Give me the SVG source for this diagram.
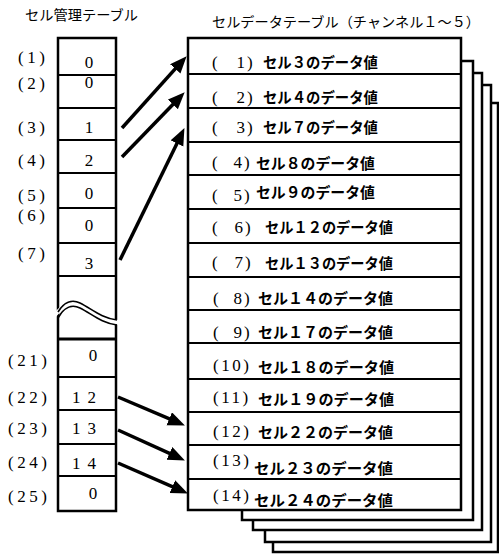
<svg xmlns="http://www.w3.org/2000/svg" width="499" height="555" viewBox="0 0 499 555">
<style>
.bg{fill:#fff}
.box{fill:#fff;stroke:#000;stroke-width:2.5}
.div{stroke:#000;stroke-width:2}
.ser{font-family:"Liberation Serif","DejaVu Serif",serif;font-size:17px;fill:#000}
.lbl{letter-spacing:3.5px}
.two{letter-spacing:2.5px}
.jp{font-family:"Noto Sans CJK JP","Noto Sans",sans-serif;font-size:15px;font-weight:bold;fill:#000}
.ttl{font-family:"Noto Sans CJK JP","Noto Sans",sans-serif;font-size:14px;fill:#000}
.arr{stroke:#000;stroke-width:3.5;fill:none}
</style>
<defs>
<marker id="ah" markerUnits="userSpaceOnUse" markerWidth="17" markerHeight="15" refX="8" refY="7" orient="auto" viewBox="0 0 17 15">
<path d="M0,0 L17,7 L0,14 z" fill="#000"/>
</marker>
</defs>
<rect class="bg" x="0" y="0" width="499" height="555"/>

<g id="titles">
<text class="ttl" x="25" y="20" textLength="113" lengthAdjust="spacingAndGlyphs">セル管理テーブル</text>
<text class="ttl" x="212" y="27" textLength="268" lengthAdjust="spacingAndGlyphs">セルデータテーブル（チャンネル１～５）</text>
</g>

<g id="mgmt-table">
<rect class="box" x="58" y="38" width="58" height="473"/>
<g class="div">
<line x1="58" y1="75" x2="116" y2="75"/>
<line x1="58" y1="108" x2="116" y2="108"/>
<line x1="58" y1="140" x2="116" y2="140"/>
<line x1="58" y1="173" x2="116" y2="173"/>
<line x1="58" y1="208" x2="116" y2="208"/>
<line x1="58" y1="243" x2="116" y2="243"/>
<line x1="58" y1="276" x2="116" y2="276"/>
<line x1="58" y1="339" x2="116" y2="339" stroke-width="3"/>
<line x1="58" y1="377" x2="116" y2="377"/>
<line x1="58" y1="410" x2="116" y2="410"/>
<line x1="58" y1="444" x2="116" y2="444"/>
<line x1="58" y1="476" x2="116" y2="476"/>
</g>
<g id="break">
<path d="M55,312 C64,302 72,299 80,303 C92,309 101,318 119,320 L119,325 C101,323 92,314 80,308 C72,304 64,307 55,318 Z" fill="#fff" stroke="none"/>
<path d="M58,312 C64,302 72,299 80,303 C92,309 101,318 117,320" fill="none" stroke="#000" stroke-width="1.6"/>
<path d="M58,318 C64,307 72,304 80,308 C92,314 101,323 117,325" fill="none" stroke="#000" stroke-width="1.6"/>
</g>
<g id="m1"><text class="ser lbl" x="18" y="63">(1)</text><text class="ser" x="89" y="68" text-anchor="middle">0</text></g>
<g id="m2"><text class="ser lbl" x="18" y="89">(2)</text><text class="ser" x="89" y="88" text-anchor="middle">0</text></g>
<g id="m3"><text class="ser lbl" x="18" y="133">(3)</text><text class="ser" x="89" y="133" text-anchor="middle">1</text></g>
<g id="m4"><text class="ser lbl" x="18" y="166">(4)</text><text class="ser" x="89" y="166" text-anchor="middle">2</text></g>
<g id="m5"><text class="ser lbl" x="18" y="201">(5)</text><text class="ser" x="89" y="199" text-anchor="middle">0</text></g>
<g id="m6"><text class="ser lbl" x="18" y="221">(6)</text><text class="ser" x="89" y="231" text-anchor="middle">0</text></g>
<g id="m7"><text class="ser lbl" x="18" y="259">(7)</text><text class="ser" x="89" y="269" text-anchor="middle">3</text></g>
<g id="m21"><text class="ser lbl" x="8" y="366">(21)</text><text class="ser" x="93" y="361" text-anchor="middle">0</text></g>
<g id="m22"><text class="ser lbl" x="8" y="403">(22)</text><text class="ser" x="72" y="403" letter-spacing="7">12</text></g>
<g id="m23"><text class="ser lbl" x="8" y="434">(23)</text><text class="ser" x="72" y="434" letter-spacing="7">13</text></g>
<g id="m24"><text class="ser lbl" x="8" y="468">(24)</text><text class="ser" x="72" y="469" letter-spacing="7">14</text></g>
<g id="m25"><text class="ser lbl" x="8" y="502">(25)</text><text class="ser" x="93" y="499" text-anchor="middle">0</text></g>
</g>

<g id="data-table">
<rect class="box" x="273" y="103" width="225" height="449"/>
<rect class="box" x="265" y="85" width="226" height="457"/>
<rect class="box" x="253" y="73" width="229" height="457"/>
<rect class="box" x="242" y="61" width="231" height="459"/>
<rect class="box" x="188" y="38" width="273" height="472"/>
<g class="div">
<line x1="188" y1="74" x2="461" y2="74"/>
<line x1="188" y1="108" x2="461" y2="108"/>
<line x1="188" y1="142" x2="461" y2="142"/>
<line x1="188" y1="175" x2="461" y2="175"/>
<line x1="188" y1="209" x2="461" y2="209"/>
<line x1="188" y1="243" x2="461" y2="243"/>
<line x1="188" y1="277" x2="461" y2="277"/>
<line x1="188" y1="310" x2="461" y2="310"/>
<line x1="188" y1="343" x2="461" y2="343"/>
<line x1="188" y1="379" x2="461" y2="379"/>
<line x1="188" y1="412" x2="461" y2="412"/>
<line x1="188" y1="445" x2="461" y2="445"/>
<line x1="188" y1="479" x2="461" y2="479"/>
</g>
<g id="d1"><text class="ser" x="212" y="68">(</text><text class="ser" x="245" y="68" text-anchor="end">1</text><text class="ser" x="247" y="68">)</text><text class="jp" x="263" y="68" textLength="115" lengthAdjust="spacingAndGlyphs">セル３のデータ値</text></g>
<g id="d2"><text class="ser" x="212" y="103">(</text><text class="ser" x="245" y="103" text-anchor="end">2</text><text class="ser" x="247" y="103">)</text><text class="jp" x="263" y="103" textLength="115" lengthAdjust="spacingAndGlyphs">セル４のデータ値</text></g>
<g id="d3"><text class="ser" x="212" y="133">(</text><text class="ser" x="245" y="133" text-anchor="end">3</text><text class="ser" x="247" y="133">)</text><text class="jp" x="263" y="133" textLength="115" lengthAdjust="spacingAndGlyphs">セル７のデータ値</text></g>
<g id="d4"><text class="ser" x="212" y="168">(</text><text class="ser" x="242" y="168" text-anchor="end">4</text><text class="ser" x="244" y="168">)</text><text class="jp" x="256" y="169" textLength="119" lengthAdjust="spacingAndGlyphs">セル８のデータ値</text></g>
<g id="d5"><text class="ser" x="212" y="201">(</text><text class="ser" x="242" y="201" text-anchor="end">5</text><text class="ser" x="244" y="201">)</text><text class="jp" x="256" y="198" textLength="119" lengthAdjust="spacingAndGlyphs">セル９のデータ値</text></g>
<g id="d6"><text class="ser" x="212" y="233">(</text><text class="ser" x="243" y="233" text-anchor="end">6</text><text class="ser" x="245" y="233">)</text><text class="jp" x="265" y="233" textLength="128" lengthAdjust="spacingAndGlyphs">セル１２のデータ値</text></g>
<g id="d7"><text class="ser" x="212" y="268">(</text><text class="ser" x="243" y="268" text-anchor="end">7</text><text class="ser" x="245" y="268">)</text><text class="jp" x="265" y="269" textLength="128" lengthAdjust="spacingAndGlyphs">セル１３のデータ値</text></g>
<g id="d8"><text class="ser" x="213" y="304">(</text><text class="ser" x="242" y="304" text-anchor="end">8</text><text class="ser" x="244" y="304">)</text><text class="jp" x="258" y="304" textLength="135" lengthAdjust="spacingAndGlyphs">セル１４のデータ値</text></g>
<g id="d9"><text class="ser" x="213" y="338">(</text><text class="ser" x="242" y="338" text-anchor="end">9</text><text class="ser" x="244" y="338">)</text><text class="jp" x="258" y="338" textLength="135" lengthAdjust="spacingAndGlyphs">セル１７のデータ値</text></g>
<g id="d10"><text class="ser two" x="213" y="371">(10)</text><text class="jp" x="258" y="373" textLength="136" lengthAdjust="spacingAndGlyphs">セル１８のデータ値</text></g>
<g id="d11"><text class="ser two" x="213" y="403">(11)</text><text class="jp" x="258" y="405" textLength="136" lengthAdjust="spacingAndGlyphs">セル１９のデータ値</text></g>
<g id="d12"><text class="ser two" x="213" y="437">(12)</text><text class="jp" x="258" y="438" textLength="135" lengthAdjust="spacingAndGlyphs">セル２２のデータ値</text></g>
<g id="d13"><text class="ser two" x="213" y="466">(13)</text><text class="jp" x="254" y="474" textLength="139" lengthAdjust="spacingAndGlyphs">セル２３のデータ値</text></g>
<g id="d14"><text class="ser two" x="213" y="501">(14)</text><text class="jp" x="254" y="506" textLength="139" lengthAdjust="spacingAndGlyphs">セル２４のデータ値</text></g>
</g>

<g id="connectors">
<line class="arr" x1="122" y1="128" x2="180.6" y2="62.9" marker-end="url(#ah)"/>
<line class="arr" x1="122" y1="157" x2="178.4" y2="98.7" marker-end="url(#ah)"/>
<line class="arr" x1="120" y1="260" x2="180.5" y2="136.2" marker-end="url(#ah)"/>
<line class="arr" x1="118" y1="397" x2="176.6" y2="421.9" marker-end="url(#ah)"/>
<line class="arr" x1="118" y1="430" x2="176.7" y2="456.7" marker-end="url(#ah)"/>
<line class="arr" x1="118" y1="463" x2="179.7" y2="489.8" marker-end="url(#ah)"/>
</g>
</svg>
